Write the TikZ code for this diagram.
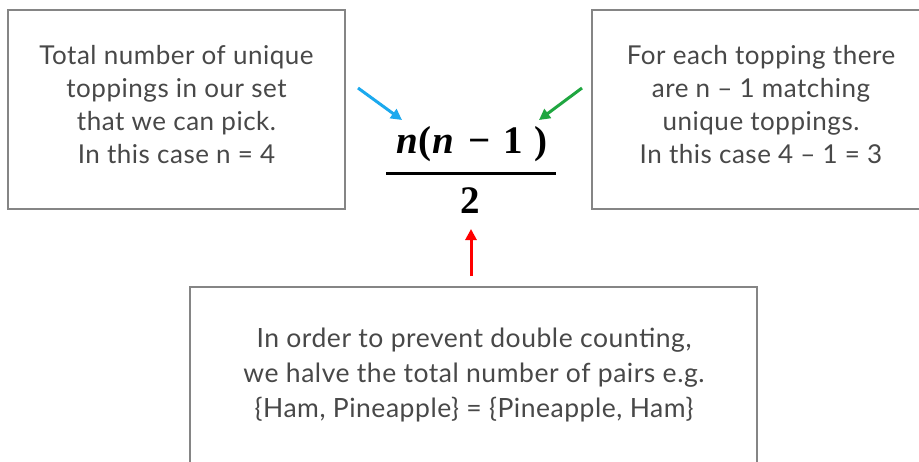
\documentclass[tikz,border=0pt]{standalone}
\usepackage{fontspec}
\setmainfont{Lato}[LetterSpace=2.0]
\newfontfamily\fmfont{Liberation Serif}
\usetikzlibrary{arrows.meta}
\definecolor{boxgray}{HTML}{858585}
\definecolor{txtgray}{HTML}{484848}
\definecolor{arrblue}{HTML}{1BA9EE}
\definecolor{arrgreen}{HTML}{1FA640}
\definecolor{arrred}{HTML}{FF0000}
\newcommand{\gl}[2]{\hbox to #1pt{\hfil#2\hfil}}
\tikzset{
  infobox/.style={draw=boxgray, line width=2pt, inner sep=0pt},
  infotext/.style={align=center, text=txtgray, font=\fontsize{26}{33}\selectfont, inner sep=0pt},
  formtext/.style={inner sep=0pt, text=black, font=\fmfont\bfseries\fontsize{39}{39}\selectfont},
  pointer/.style={line width=3pt, -{Triangle[length=11pt,width=11pt]}}
}
\begin{document}
\begin{tikzpicture}[x=1pt,y=-1pt]
\useasboundingbox (0,0) rectangle (919,461);
\clip (0,0) rectangle (919,461);
\fill[white] (0,0) rectangle (919,461);
% boxes
\node[infobox, minimum width=337pt, minimum height=199pt] (lbox) at (176.5,109.5) {};
\node[infobox, minimum width=340pt, minimum height=199pt] (rbox) at (762,109.5) {};
\node[infobox, minimum width=567pt, minimum height=240pt] (botbox) at (473.5,407) {};
% texts
\node[infotext] (ltext) at (176.5,105) {Total number of unique\\toppings in our set\\that we can pick.\\In this case n = 4};
\node[infotext] (rtext) at (761,105) {For each topping there\\are n – 1 matching\\unique toppings.\\In this case 4 – 1 = 3};
\node[infotext, font=\fontsize{26.5}{35}\selectfont] (btext) at (474,375) {In order to prevent double counting,\\we halve the total number of pairs e.g.\\\{Ham, Pineapple\} = \{Pineapple, Ham\}};
% formula
\node[formtext, anchor=base west] (num) at (396,153) {\gl{22}{\itshape n}\gl{13}{(}\gl{24}{\itshape n}\gl{48}{−}\gl{19}{1}\gl{38}{)}};
\coordinate (barl) at (386,173);
\coordinate (barr) at (556,173);
\draw[line width=3pt, black] (barl) -- (barr);
\node[formtext, anchor=base] (den) at (470,213) {2};
% arrows
\coordinate (bs) at (358,88);
\coordinate (be) at (402,120);
\coordinate (gs) at (582,88);
\coordinate (ge) at (539,120);
\coordinate (rs) at (471,276);
\coordinate (re) at (471,229);
\draw[pointer, arrblue] (bs) -- (be);
\draw[pointer, arrgreen] (gs) -- (ge);
\draw[pointer, arrred] (rs) -- (re);
\end{tikzpicture}
\end{document}
